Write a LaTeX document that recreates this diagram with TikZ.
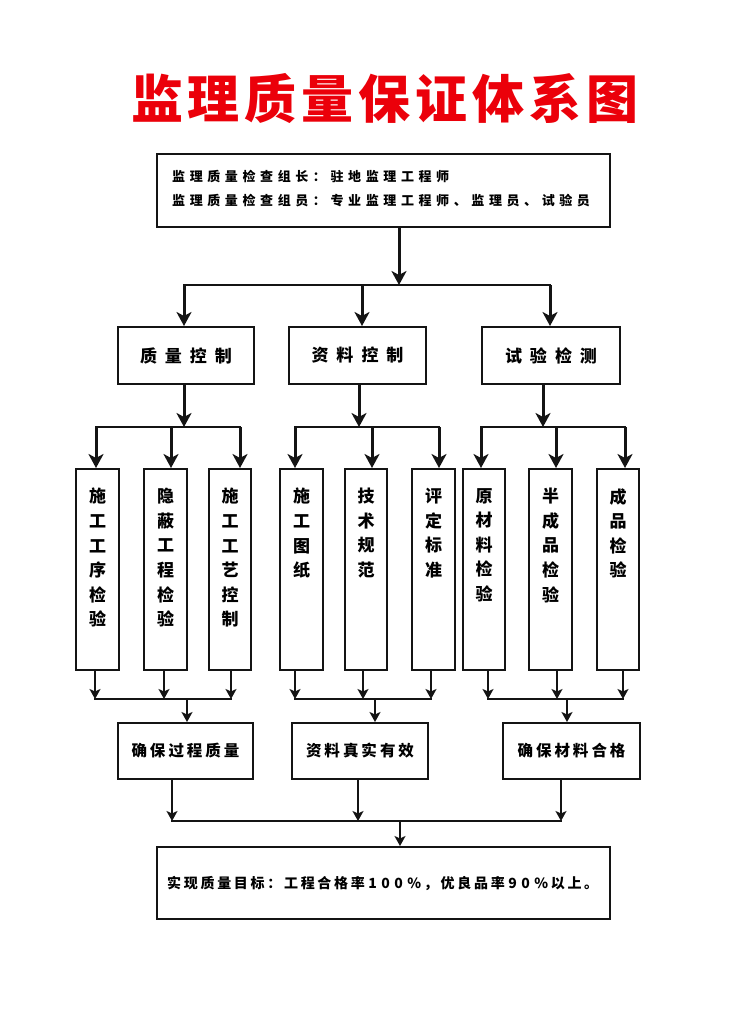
\documentclass[tikz,border=0pt]{standalone}
\usepackage{fontspec}
\setmainfont{Noto Sans CJK SC}
\usetikzlibrary{arrows.meta}
\definecolor{ink}{RGB}{20,20,20}
\definecolor{titlered}{RGB}{235,0,10}
\makeatletter
\newcommand\lspc[2]{\def\lspc@k{#1}\lspc@first#2\relax}
\def\lspc@first#1{#1\lspc@loop}
\def\lspc@loop#1{\ifx#1\relax\else\kern\lspc@k#1\expandafter\lspc@loop\fi}
\makeatother
\tikzset{
  box/.style={draw=ink, line width=2pt, inner sep=0pt, fill=white},
  bigarr/.style={draw=ink, line width=3pt, -{Stealth[length=14pt,width=15pt,inset=4pt]}},
  smallarr/.style={draw=ink, line width=1.8pt, -{Stealth[length=10pt,width=11pt,inset=2.5pt]}},
  bigbar/.style={draw=ink, line width=2.2pt, line cap=rect},
  smallbar/.style={draw=ink, line width=1.6pt, line cap=rect},
  tfont/.style={font={\bfseries\fontsize{13pt}{15pt}\selectfont}, inner sep=0pt},
  rfont/.style={font={\bfseries\fontsize{17pt}{20pt}\selectfont}},
  vfont/.style={font={\bfseries\fontsize{17pt}{24.6pt}\selectfont}, inner sep=0pt, align=center, anchor=north},
  qfont/.style={font={\bfseries\fontsize{15.5pt}{18pt}\selectfont}},
  bfont/.style={font={\bfseries\fontsize{14pt}{16pt}\selectfont}, inner sep=0pt},
  tall/.style={box, minimum width=#1, minimum height=201pt}
}
\begin{document}
\begin{tikzpicture}[x=1pt,y=-1pt]
\fill[white] (0,0) rectangle (733,1024);
\useasboundingbox (0,0) rectangle (733,1024);

% title
\node[font={\bfseries\fontsize{52pt}{52pt}\selectfont}, text=titlered] (title) at (385,99) {\lspc{5pt}{监理质量保证体系图}};

% top box
\node[box, minimum width=453pt, minimum height=73pt] (top) at (383.5,190.5) {};
\node[tfont, anchor=west] (top1) at (172,176) {\lspc{4.6pt}{监理质量检查组长：驻地监理工程师}};
\node[tfont, anchor=west] (top2) at (172,201) {\lspc{4.6pt}{监理质量检查组员：专业监理工程师、监理员、试验员}};

% row 2
\node[box, minimum width=136pt, minimum height=57pt, rfont] (q) at (186,355.5) {\lspc{8pt}{质量控制}};
\node[box, minimum width=137pt, minimum height=57pt, rfont] (z) at (357.5,355.5) {\lspc{8pt}{资料控制}};
\node[box, minimum width=138pt, minimum height=57pt, rfont] (s) at (551,355.5) {\lspc{8pt}{试验检测}};

\coordinate (j0) at (399,285);
\draw[bigarr] (top.south -| j0) -- (j0);
\draw[bigbar] (184,285) -- (550,285);
\draw[bigarr] (184,285) -- (q.north -| 184,0);
\draw[bigarr] (362,285) -- (z.north -| 362,0);
\draw[bigarr] (550,285) -- (s.north -| 550,0);

% row 3
\node[tall=43pt] (c1) at (97.5,569.5) {};
\node[tall=43pt] (c2) at (165.5,569.5) {};
\node[tall=42pt] (c3) at (230,569.5) {};
\node[tall=43pt] (c4) at (301.5,569.5) {};
\node[tall=42pt] (c5) at (366,569.5) {};
\node[tall=43pt] (c6) at (433.5,569.5) {};
\node[tall=42pt] (c7) at (484,569.5) {};
\node[tall=43pt] (c8) at (550.5,569.5) {};
\node[tall=42pt] (c9) at (618,569.5) {};

\node[vfont] (c1t) at ([yshift=-20pt]c1.north) {施\\工\\工\\序\\检\\验};
\node[vfont] (c2t) at ([yshift=-20pt]c2.north) {隐\\蔽\\工\\程\\检\\验};
\node[vfont] (c3t) at ([yshift=-20pt]c3.north) {施\\工\\工\\艺\\控\\制};
\node[vfont] (c4t) at ([yshift=-20pt]c4.north) {施\\工\\图\\纸};
\node[vfont] (c5t) at ([yshift=-20pt]c5.north) {技\\术\\规\\范};
\node[vfont] (c6t) at ([yshift=-20pt]c6.north) {评\\定\\标\\准};
\node[vfont] (c7t) at ([yshift=-20pt]c7.north) {原\\材\\料\\检\\验};
\node[vfont] (c8t) at ([yshift=-20pt]c8.north) {半\\成\\品\\检\\验};
\node[vfont] (c9t) at ([yshift=-20pt]c9.north) {成\\品\\检\\验};

\draw[bigarr] (q.south -| 184,0) -- (184,427);
\draw[bigarr] (z.south -| 359,0) -- (359,427);
\draw[bigarr] (s.south -| 543,0) -- (543,427);
\draw[bigbar] (96,427) -- (240,427);
\draw[bigbar] (295,427) -- (439,427);
\draw[bigbar] (481,427) -- (625,427);
\draw[bigarr] (96,427) -- (c1.north -| 96,0);
\draw[bigarr] (171,427) -- (c2.north -| 171,0);
\draw[bigarr] (240,427) -- (c3.north -| 240,0);
\draw[bigarr] (295,427) -- (c4.north -| 295,0);
\draw[bigarr] (372,427) -- (c5.north -| 372,0);
\draw[bigarr] (439,427) -- (c6.north -| 439,0);
\draw[bigarr] (481,427) -- (c7.north -| 481,0);
\draw[bigarr] (556,427) -- (c8.north -| 556,0);
\draw[bigarr] (625,427) -- (c9.north -| 625,0);

% row 4
\node[box, minimum width=135pt, minimum height=56pt, qfont] (r1) at (185.5,751) {\lspc{3pt}{确保过程质量}};
\node[box, minimum width=136pt, minimum height=56pt, qfont] (r2) at (360,751) {\lspc{3pt}{资料真实有效}};
\node[box, minimum width=137pt, minimum height=56pt, qfont] (r3) at (571.5,751) {\lspc{3pt}{确保材料合格}};

\draw[smallarr] (c1.south -| 95,0) -- (95,699);
\draw[smallarr] (c2.south -| 164,0) -- (164,699);
\draw[smallarr] (c3.south -| 231,0) -- (231,699);
\draw[smallarr] (c4.south -| 295,0) -- (295,699);
\draw[smallarr] (c5.south -| 363,0) -- (363,699);
\draw[smallarr] (c6.south -| 431,0) -- (431,699);
\draw[smallarr] (c7.south -| 488,0) -- (488,699);
\draw[smallarr] (c8.south -| 557,0) -- (557,699);
\draw[smallarr] (c9.south -| 623,0) -- (623,699);
\draw[smallbar] (95,699) -- (231,699);
\draw[smallbar] (295,699) -- (431,699);
\draw[smallbar] (488,699) -- (623,699);
\draw[smallarr] (187,699) -- (r1.north -| 187,0);
\draw[smallarr] (375,699) -- (r2.north -| 375,0);
\draw[smallarr] (567,699) -- (r3.north -| 567,0);

% bottom
\node[box, minimum width=453pt, minimum height=72pt] (bot) at (383.5,883) {};
\node[bfont, anchor=west] (bott) at (167,883) {\lspc{2.7pt}{实现质量目标：工程合格率}\kern3.5pt\lspc{4.5pt}{100\%}\kern2.7pt\lspc{2.7pt}{，优良品率}\kern3.5pt\lspc{4.5pt}{90\%}\kern2.7pt\lspc{2.7pt}{以上。}};

\draw[smallarr] (r1.south -| 172,0) -- (172,821);
\draw[smallarr] (r2.south -| 358,0) -- (358,821);
\draw[smallarr] (r3.south -| 561,0) -- (561,821);
\draw[smallbar] (172,821) -- (561,821);
\draw[smallarr] (400,821) -- (bot.north -| 400,0);
\end{tikzpicture}
\end{document}
